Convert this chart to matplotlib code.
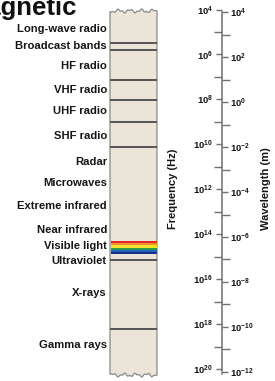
"""Electromagnetic spectrum column with frequency / wavelength scale."""

import numpy as np
import matplotlib
matplotlib.use('Agg')
import matplotlib.pyplot as plt
from matplotlib.ticker import FixedLocator, NullFormatter
from matplotlib.patches import Polygon, Rectangle

plt.rcParams['font.family'] = ['Liberation Sans', 'DejaVu Sans']
plt.rcParams['mathtext.fontset'] = 'custom'
plt.rcParams['mathtext.rm'] = 'Liberation Sans:bold'
plt.rcParams['mathtext.it'] = 'Liberation Sans:bold'
plt.rcParams['mathtext.bf'] = 'Liberation Sans:bold'

# band names and where their labels sit (log10 of frequency in Hz)
band_names = ['Long-wave radio', 'Broadcast bands', 'HF radio', 'VHF radio', 'UHF radio',
              'SHF radio', 'Radar', 'Microwaves', 'Extreme infrared', 'Near infrared',
              'Visible light', 'Ultraviolet', 'X-rays', 'Gamma rays']
band_label_exp = [4.87, 5.62, 6.51, 7.58, 8.52, 9.63, 10.78, 11.72, 12.74, 13.81,
                  14.52, 15.19, 16.61, 18.93]

# dividing lines inside the column (log10 Hz)
boundary_exp = [5.49, 5.80, 7.14, 8.03, 9.00, 10.12, 15.14, 18.21]

# visible light strip (log10 Hz), red at low frequency
visible_start = 14.30
visible_end = 14.88
visible_colors = ['#e3262a', '#f0922a', '#f1e12c', '#2a9c4a', '#2461b8', '#1a2f8a']

# scale ticks
freq_major = [4, 6, 8, 10, 12, 14, 16, 18, 20]
freq_minor = [5, 7, 9, 11, 13, 15, 17, 19]
wl_major = [4, 2, 0, -2, -4, -6, -8, -10, -12]
wl_minor = [3, 1, -1, -3, -5, -7, -9, -11]
WL_CONST = 1.32e8   # wavelength = WL_CONST / frequency, as drawn on the scale

Y_TOP, Y_BOT = 3.577, 20.526   # exponent range over figure height
W, H = 275, 381
PX = (Y_BOT - Y_TOP) / H        # exponent units per pixel

fig = plt.figure(figsize=(W / 100, H / 100), dpi=100)
ax = fig.add_axes([0, 0, 1, 1])
ax.set_xlim(0, W)
ax.set_ylim(Y_BOT, Y_TOP)
ax.axis('off')

# title, cut off at the left edge like the source
ax.text(77, Y_TOP + 15 * PX, 'Electromagnetic', ha='right', va='baseline',
        fontsize=18.5, fontweight='bold', color='#111111')

# column with ragged top and bottom
x0, x1 = 110, 157
xs = np.linspace(x0, x1, 60)
wob = 1.3 * np.sin((xs - x0) * 0.55) + 0.8 * np.sin((xs - x0) * 1.3 + 1.0)
top = Y_TOP + (11 + wob) * PX
bot = Y_TOP + (375 - wob) * PX
verts = list(zip(xs, top)) + list(zip(xs[::-1], bot[::-1]))
ax.add_patch(Polygon(verts, closed=True, facecolor='#ebe4d9', edgecolor='#8a8a8a', lw=0.9))

n = len(visible_colors)
h = (visible_end - visible_start) / n
for i, c in enumerate(visible_colors):
    ax.add_patch(Rectangle((x0 + 0.5, visible_start + i * h), x1 - x0 - 1, h,
                           facecolor=c, edgecolor='none'))

for b in boundary_exp:
    ax.plot([x0, x1], [b, b], color='#555555', lw=1.4, solid_capstyle='butt')

for name, e in zip(band_names, band_label_exp):
    ax.text(107, e, name, ha='right', va='center', fontsize=8.1,
            fontweight='bold', color='#161616')

# frequency / wavelength scale
sax = fig.add_axes([222 / W, 0, 0.0001, 1])
sax.set_yscale('log')
sax.set_ylim(10.0 ** Y_BOT, 10.0 ** Y_TOP)
sax.set_xticks([])
sax.patch.set_visible(False)
for s in ('top', 'bottom', 'right'):
    sax.spines[s].set_visible(False)
sax.spines['left'].set_color('#707070')
sax.spines['left'].set_linewidth(1.1)
sax.spines['left'].set_bounds(10.0 ** (Y_TOP + 12 * PX), 10.0 ** (Y_TOP + 374 * PX))
sax.yaxis.set_major_locator(FixedLocator([10.0 ** p for p in freq_major]))
sax.yaxis.set_minor_locator(FixedLocator([10.0 ** p for p in freq_minor]))
sax.yaxis.set_minor_formatter(NullFormatter())
sax.set_yticklabels([f'$10^{{{p}}}$' for p in freq_major])
sax.tick_params(axis='y', which='major', length=4.5, width=1.0, color='#707070',
                pad=2, labelsize=6.8, labelcolor='#161616')
sax.tick_params(axis='y', which='minor', length=5.5, width=1.0, color='#707070')

sec = sax.secondary_yaxis('right', functions=(lambda f: WL_CONST / f, lambda l: WL_CONST / l))
sec.spines['right'].set_visible(False)
sec.yaxis.set_major_locator(FixedLocator([10.0 ** p for p in wl_major]))
sec.yaxis.set_minor_locator(FixedLocator([10.0 ** p for p in wl_minor]))
sec.yaxis.set_minor_formatter(NullFormatter())
sec.set_yticklabels([f'$10^{{{p}}}$' for p in wl_major])
sec.tick_params(axis='y', which='major', length=4.5, width=1.0, color='#707070',
                pad=1.5, labelsize=6.8, labelcolor='#161616')
sec.tick_params(axis='y', which='minor', length=5.5, width=1.0, color='#707070')

fig.text(173 / W, 1 - 189 / H, 'Frequency (Hz)', rotation=90, ha='center', va='center',
         fontsize=8, fontweight='bold', color='#161616')
fig.text(266 / W, 1 - 189 / H, 'Wavelength (m)', rotation=90, ha='center', va='center',
         fontsize=8, fontweight='bold', color='#161616')

fig.savefig('out.png', dpi=100)
